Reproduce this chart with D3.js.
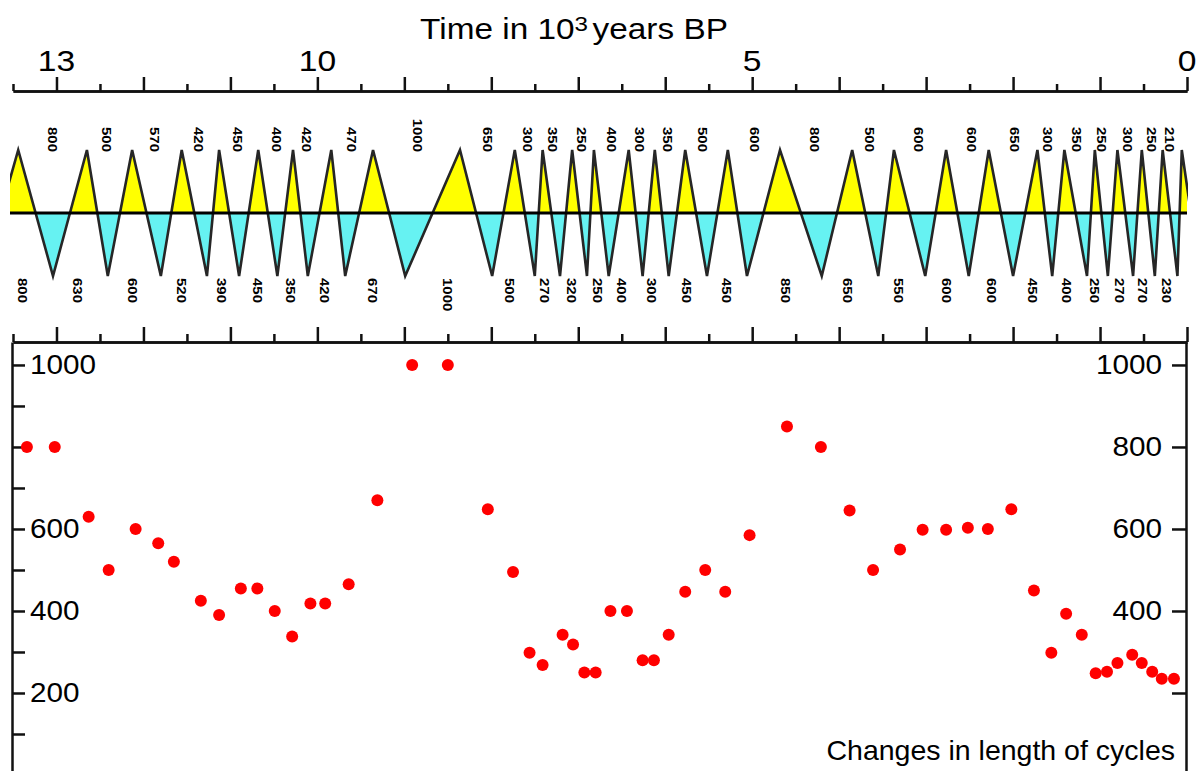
<!DOCTYPE html>
<html>
<head>
<meta charset="utf-8">
<script src="https://cdn.jsdelivr.net/npm/d3@7"></script>
<style>
  body { margin: 0; background: #fff; }
  svg { display: block; font-family: "Liberation Sans", Arial, sans-serif; }
</style>
</head>
<body>
<svg id="chart"></svg>
<script>
// ---- data (time in 10^3 years BP, cycle length in years) ----
var timeLabelTicks = [13, 10, 5, 0];

var peakTimes = [13.44, 12.65, 12.13, 11.56, 11.13, 10.68, 10.28, 9.84, 9.36, 8.36,
                 7.73, 7.41, 7.07, 6.82, 6.42, 6.12, 5.77, 5.28, 4.68, 3.85,
                 3.37, 2.77, 2.28, 1.72, 1.41, 1.06, 0.80, 0.52, 0.28, 0.06];
var troughTimes = [13.85, 13.04, 12.41, 11.80, 11.27, 10.90, 10.46, 10.11, 9.68, 8.99,
                   7.99, 7.50, 7.21, 6.90, 6.65, 6.26, 5.96, 5.52, 5.06, 4.20,
                   3.55, 3.01, 2.51, 2.00, 1.55, 1.15, 0.91, 0.62, 0.37, 0.11, -0.15];

var topLabelTimes = [13.04, 12.42, 11.87, 11.36, 10.92, 10.47, 10.12, 9.60, 8.85, 8.04,
                     7.58, 7.29, 6.96, 6.61, 6.29, 5.97, 5.57, 4.97, 4.28, 3.65,
                     3.08, 2.48, 1.98, 1.60, 1.27, 0.98, 0.68, 0.40, 0.20];
var topLabelValues = [800, 500, 570, 420, 450, 400, 420, 470, 1000, 650,
                      300, 350, 250, 400, 300, 350, 500, 600, 800, 500,
                      600, 600, 650, 300, 350, 250, 300, 250, 210];

var bottomLabelTimes = [13.39, 12.75, 12.12, 11.56, 11.10, 10.69, 10.31, 9.91, 9.36, 8.50,
                        7.79, 7.38, 7.07, 6.78, 6.50, 6.15, 5.75, 5.29, 4.62, 3.90,
                        3.32, 2.76, 2.24, 1.77, 1.38, 1.06, 0.77, 0.51, 0.23];
var bottomLabelValues = [800, 630, 600, 520, 390, 450, 350, 420, 670, 1000,
                         500, 270, 320, 250, 400, 300, 450, 450, 850, 650,
                         550, 600, 600, 450, 400, 250, 270, 270, 230];

var dotTimes = [13.34, 13.02, 12.63, 12.40, 12.09, 11.83, 11.65, 11.34, 11.13, 10.88,
                10.69, 10.49, 10.29, 10.08, 9.91, 9.64, 9.31, 8.91, 8.50, 8.04,
                7.75, 7.56, 7.41, 7.18, 7.06, 6.93, 6.80, 6.63, 6.44, 6.26,
                6.13, 5.96, 5.77, 5.54, 5.31, 5.03, 4.60, 4.21, 3.88, 3.61,
                3.30, 3.04, 2.77, 2.52, 2.29, 2.02, 1.76, 1.56, 1.39, 1.21,
                1.05, 0.92, 0.80, 0.63, 0.52, 0.40, 0.29, 0.15];
var dotValues = [800, 800, 630, 500, 600, 565, 520, 425, 390, 455,
                 455, 400, 338, 418, 418, 465, 670, 1000, 1000, 648,
                 495, 298, 268, 342, 318, 250, 250, 400, 400, 280,
                 280, 342, 447, 500, 447, 585, 850, 800, 645, 500,
                 550, 598, 598, 603, 600, 648, 450, 298, 393, 342,
                 248, 252, 273, 293, 273, 252, 235, 235];

var yMajorTicks = [1000, 800, 600, 400, 200];
var yMinorTicks = [900, 700, 500, 300, 100];
var yLeftLabels = [1000, 600, 400, 200];
var yRightLabels = [1000, 800, 600, 400];

// ---- setup ----
var width = 1197, height = 771;
var svg = d3.select("#chart").attr("width", width).attr("height", height);

var x = d3.scaleLinear().domain([13.5, 0]).range([13, 1187]);
var y = d3.scaleLinear().domain([0, 1056]).range([775, 342]);
var zy = d3.scaleLinear().domain([-1, 1]).range([276, 150]);

function addText(g, px, py, txt, size, sx, anchor) {
  return g.append("text")
    .attr("transform", "translate(" + px + "," + py + ") scale(" + sx + ",1)")
    .attr("text-anchor", anchor)
    .style("font-size", size + "px")
    .text(txt);
}

// time axis with major ticks every 1 kyr and minor every 0.5 kyr
function timeAxis(yPos, major, minor) {
  var g = svg.append("g").attr("transform", "translate(0," + yPos + ")");
  g.append("g").call(d3.axisTop(x).tickValues(d3.range(0, 14)).tickSize(major).tickSizeOuter(0).tickFormat(""));
  g.append("g").call(d3.axisTop(x).tickValues(d3.range(0.5, 14, 1)).tickSize(minor).tickSizeOuter(0).tickFormat(""));
  g.selectAll("path, line").attr("stroke", "#111").attr("stroke-width", 2.5);
  return g;
}

// ---- top axis ----
timeAxis(91, 14, 7);
var timeLabels = svg.append("g");
timeLabelTicks.forEach(function(t) {
  addText(timeLabels, x(t), 71, t, 30, 1.12, "middle");
});

var title = svg.append("text")
  .attr("transform", "translate(574,39) scale(1.15,1)")
  .attr("text-anchor", "middle")
  .style("font-size", "29px");
title.append("tspan").text("Time in 10");
title.append("tspan").attr("dy", -8).style("font-size", "21px").text("3");
title.append("tspan").attr("dy", 8).attr("dx", 4).text("years BP");

// ---- zigzag of cycles ----
var vertices = peakTimes.map(function(t) { return {t: t, v: 1}; })
  .concat(troughTimes.map(function(t) { return {t: t, v: -1}; }))
  .sort(function(a, b) { return b.t - a.t; });

var defs = svg.append("defs");
defs.append("clipPath").attr("id", "clip-up").append("rect")
  .attr("x", 10).attr("y", 100).attr("width", 1177).attr("height", zy(0) - 100);
defs.append("clipPath").attr("id", "clip-down").append("rect")
  .attr("x", 10).attr("y", zy(0)).attr("width", 1177).attr("height", 90);
defs.append("clipPath").attr("id", "clip-zig").append("rect")
  .attr("x", 10).attr("y", 100).attr("width", 1178).attr("height", 200);

var area = d3.area()
  .x(function(d) { return x(d.t); })
  .y0(zy(0))
  .y1(function(d) { return zy(d.v); });

var line = d3.line()
  .x(function(d) { return x(d.t); })
  .y(function(d) { return zy(d.v); });

svg.append("path").datum(vertices).attr("d", area)
  .attr("fill", "#ffff00").attr("clip-path", "url(#clip-up)");
svg.append("path").datum(vertices).attr("d", area)
  .attr("fill", "#66f2f2").attr("clip-path", "url(#clip-down)");
svg.append("path").datum(vertices).attr("d", line)
  .attr("fill", "none").attr("stroke", "#262626").attr("stroke-width", 2.6)
  .attr("stroke-linejoin", "miter").attr("clip-path", "url(#clip-zig)");
svg.append("line")
  .attr("x1", 10).attr("x2", 1187).attr("y1", zy(0)).attr("y2", zy(0))
  .attr("stroke", "#000").attr("stroke-width", 3);

// rotated cycle-length labels
var zigLabels = svg.append("g").style("font-size", "15px").style("font-weight", "bold");
topLabelTimes.forEach(function(t, i) {
  zigLabels.append("text")
    .attr("transform", "translate(" + x(t) + ",152) rotate(90) scale(1,0.9)")
    .attr("text-anchor", "end").attr("dy", "0.35em")
    .text(topLabelValues[i]);
});
bottomLabelTimes.forEach(function(t, i) {
  zigLabels.append("text")
    .attr("transform", "translate(" + x(t) + ",278) rotate(90) scale(1,0.9)")
    .attr("text-anchor", "start").attr("dy", "0.35em")
    .text(bottomLabelValues[i]);
});

// ---- lower panel ----
timeAxis(342, 15, 8);

svg.append("g").attr("transform", "translate(12,0)")
  .call(d3.axisRight(y).tickValues(yMajorTicks.concat(yMinorTicks)).tickSize(13).tickSizeOuter(0).tickFormat(""));
svg.append("g").attr("transform", "translate(1186,0)")
  .call(d3.axisLeft(y).tickValues(yMajorTicks).tickSize(14).tickSizeOuter(0).tickFormat(""));
svg.selectAll("g path.domain, g .tick line").attr("stroke", "#111").attr("stroke-width", 2.5);

var yLabels = svg.append("g");
yLeftLabels.forEach(function(v) {
  addText(yLabels, 30, y(v), v, 27, 1.1, "start").attr("dy", "0.35em");
});
yRightLabels.forEach(function(v) {
  addText(yLabels, 1162, y(v), v, 27, 1.1, "end").attr("dy", "0.35em");
});

svg.append("g").selectAll("circle")
  .data(dotTimes)
  .enter().append("circle")
  .attr("cx", function(d) { return x(d); })
  .attr("cy", function(d, i) { return y(dotValues[i]); })
  .attr("r", 6)
  .attr("fill", "#ff0000");

addText(svg, 1175, 760, "Changes in length of cycles", 28.5, 1, "end");
</script>
</body>
</html>
